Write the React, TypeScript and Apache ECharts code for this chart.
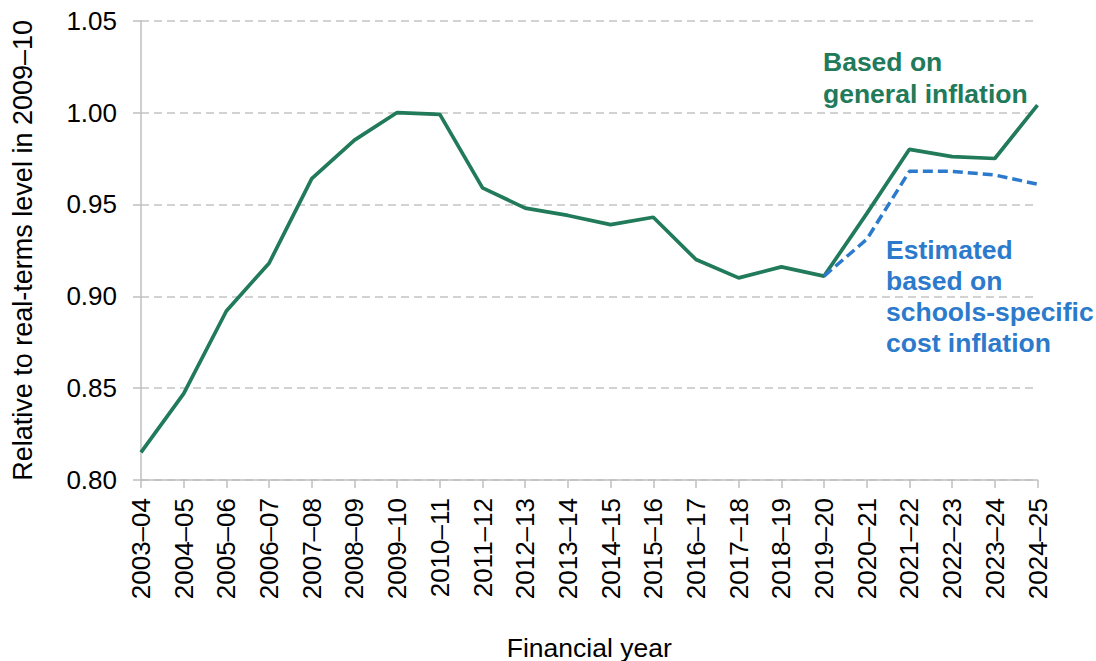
import React, { useEffect, useRef } from "react";
import * as echarts from "echarts";

const categories = [
  "2003–04", "2004–05", "2005–06", "2006–07", "2007–08", "2008–09", "2009–10",
  "2010–11", "2011–12", "2012–13", "2013–14", "2014–15", "2015–16", "2016–17",
  "2017–18", "2018–19", "2019–20", "2020–21", "2021–22", "2022–23", "2023–24", "2024–25",
];

const generalInflation = [
  0.815, 0.847, 0.892, 0.918, 0.964, 0.985, 1.0, 0.999, 0.959, 0.948, 0.944,
  0.939, 0.943, 0.92, 0.91, 0.916, 0.911, 0.945, 0.98, 0.976, 0.975, 1.004,
];

const schoolsInflation = [
  null, null, null, null, null, null, null, null, null, null, null,
  null, null, null, null, null, 0.911, 0.931, 0.968, 0.968, 0.966, 0.961,
];

const yTicks = { min: 0.8, max: 1.05, interval: 0.05 };

const GREEN = "#217A5A";
const BLUE = "#2C7ACC";
const FONT = "'Liberation Sans', Arial, sans-serif";

export default function App() {
  const ref = useRef<HTMLDivElement>(null);
  useEffect(() => {
    if (!ref.current) return;
    const chart = echarts.init(ref.current, null, { renderer: "svg" });
    chart.setOption({
      animation: false,
      backgroundColor: "#ffffff",
      textStyle: { fontFamily: FONT },
      grid: {
        left: 141,
        right: 58.5,
        top: 20.7,
        bottom: 181,
        containLabel: false,
        outerBoundsMode: "none",
      },
      xAxis: {
        type: "category",
        data: categories,
        boundaryGap: false,
        name: "Financial year",
        nameLocation: "middle",
        nameGap: 154,
        nameTextStyle: { fontSize: 26.5, color: "#000", fontFamily: FONT },
        axisLine: { show: true, lineStyle: { color: "#BFBFBF", width: 1.5 } },
        axisTick: { show: true, length: 8, lineStyle: { color: "#BFBFBF", width: 1.5 } },
        axisLabel: {
          rotate: 90,
          fontSize: 26,
          color: "#000",
          margin: 18,
          interval: 0,
          fontFamily: FONT,
        },
        splitLine: { show: false },
      },
      yAxis: {
        type: "value",
        min: yTicks.min,
        max: yTicks.max,
        interval: yTicks.interval,
        name: "Relative to real-terms level in 2009–10",
        nameLocation: "middle",
        nameGap: 104.5,
        nameTextStyle: { fontSize: 27, color: "#000", fontFamily: FONT },
        axisLine: { show: true, lineStyle: { color: "#BFBFBF", width: 1.5 } },
        axisTick: { show: true, length: 8, lineStyle: { color: "#BFBFBF", width: 1.5 } },
        axisLabel: {
          fontSize: 26,
          color: "#000",
          margin: 24,
          fontFamily: FONT,
          formatter: (v: number) => v.toFixed(2),
        },
        splitLine: {
          show: true,
          lineStyle: { color: "#C4C4C4", width: 1.5, type: [8, 5] },
        },
      },
      series: [
        {
          name: "Based on general inflation",
          type: "line",
          data: generalInflation,
          showSymbol: false,
          symbol: "none",
          lineStyle: { color: GREEN, width: 3.7 },
          itemStyle: { color: GREEN },
          z: 3,
        },
        {
          name: "Estimated based on schools-specific cost inflation",
          type: "line",
          data: schoolsInflation,
          showSymbol: false,
          symbol: "none",
          connectNulls: false,
          lineStyle: { color: BLUE, width: 3.5, type: [10, 5] },
          itemStyle: { color: BLUE },
          z: 4,
        },
      ],
      graphic: [
        {
          type: "text",
          left: 823,
          top: 45.5,
          style: {
            text: "Based on\ngeneral inflation",
            fill: GREEN,
            fontSize: 26.5,
            fontWeight: "bold",
            lineHeight: 32,
            fontFamily: FONT,
          },
        },
        {
          type: "text",
          left: 886,
          top: 234.3,
          style: {
            text: "Estimated\nbased on\nschools-specific\ncost inflation",
            fill: BLUE,
            fontSize: 26.5,
            fontWeight: "bold",
            lineHeight: 31,
            fontFamily: FONT,
          },
        },
      ],
    });
    return () => chart.dispose();
  }, []);
  return (
    <div
      ref={ref}
      style={{ position: "fixed", left: 0, top: 0, width: 1096, height: 661 }}
    />
  );
}
